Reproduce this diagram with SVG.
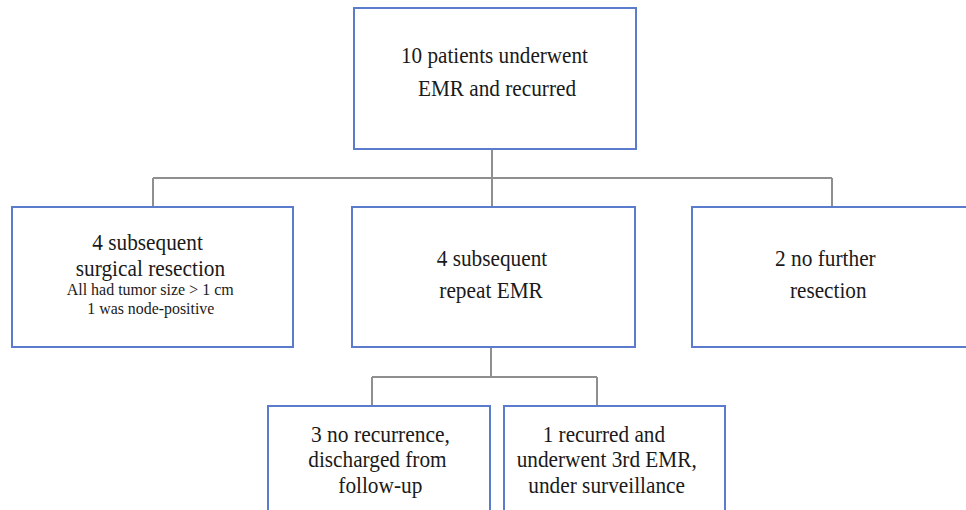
<svg xmlns="http://www.w3.org/2000/svg" width="966" height="510" viewBox="0 0 966 510">
<style>
.box{fill:#fff;stroke:#5b7ccc;stroke-width:2}
.con{fill:none;stroke:#8f8f8f;stroke-width:2}
</style>
<rect width="966" height="510" fill="#fff"/>
<g id="connectors">
<path class="con" d="M492 149V178M153 178H832M153 178V207M492 178V207M832 178V207"/>
<path class="con" d="M491 347V377M372 377H597M372 377V406M597 377V406"/>
</g>
<g id="n-top">
<rect class="box" x="354" y="8" width="282" height="141"/>
<text x="401" y="63" font-family="Liberation Serif" font-size="24" fill="#1a1a1a" textLength="187" lengthAdjust="spacingAndGlyphs">10 patients underwent</text>
<text x="418" y="96" font-family="Liberation Serif" font-size="24" fill="#1a1a1a" textLength="158" lengthAdjust="spacingAndGlyphs">EMR and recurred</text>
</g>
<g id="n-surgical">
<rect class="box" x="12" y="207" width="281" height="140"/>
<text x="92.3" y="250" font-family="Liberation Serif" font-size="24" fill="#1a1a1a" textLength="110.5" lengthAdjust="spacingAndGlyphs">4 subsequent</text>
<text x="75.7" y="276" font-family="Liberation Serif" font-size="24" fill="#1a1a1a" textLength="149.5" lengthAdjust="spacingAndGlyphs">surgical resection</text>
<text x="66.7" y="295" font-family="Liberation Serif" font-size="16.5" fill="#1a1a1a" textLength="167" lengthAdjust="spacingAndGlyphs">All had tumor size &gt; 1 cm</text>
<text x="87.3" y="314" font-family="Liberation Serif" font-size="16.5" fill="#1a1a1a" textLength="127" lengthAdjust="spacingAndGlyphs">1 was node-positive</text>
</g>
<g id="n-repeat">
<rect class="box" x="352" y="207" width="283" height="140"/>
<text x="436.7" y="266" font-family="Liberation Serif" font-size="24" fill="#1a1a1a" textLength="110.5" lengthAdjust="spacingAndGlyphs">4 subsequent</text>
<text x="439.3" y="298" font-family="Liberation Serif" font-size="24" fill="#1a1a1a" textLength="103.5" lengthAdjust="spacingAndGlyphs">repeat EMR</text>
</g>
<g id="n-nofurther">
<rect class="box" x="692" y="207" width="280" height="140"/>
<text x="775" y="266" font-family="Liberation Serif" font-size="24" fill="#1a1a1a" textLength="100.7" lengthAdjust="spacingAndGlyphs">2 no further</text>
<text x="790" y="298" font-family="Liberation Serif" font-size="24" fill="#1a1a1a" textLength="76.5" lengthAdjust="spacingAndGlyphs">resection</text>
</g>
<g id="n-norecur">
<rect class="box" x="268" y="406" width="222" height="110"/>
<text x="311" y="442" font-family="Liberation Serif" font-size="24" fill="#1a1a1a" textLength="139" lengthAdjust="spacingAndGlyphs">3 no recurrence,</text>
<text x="308.3" y="467" font-family="Liberation Serif" font-size="24" fill="#1a1a1a" textLength="138.3" lengthAdjust="spacingAndGlyphs">discharged from</text>
<text x="338.3" y="493" font-family="Liberation Serif" font-size="24" fill="#1a1a1a" textLength="84" lengthAdjust="spacingAndGlyphs">follow-up</text>
</g>
<g id="n-recurred">
<rect class="box" x="504" y="406" width="221" height="110"/>
<text x="542.7" y="442" font-family="Liberation Serif" font-size="24" fill="#1a1a1a" textLength="122.3" lengthAdjust="spacingAndGlyphs">1 recurred and</text>
<text x="516.7" y="467" font-family="Liberation Serif" font-size="24" fill="#1a1a1a" textLength="180" lengthAdjust="spacingAndGlyphs">underwent 3rd EMR,</text>
<text x="528.3" y="493" font-family="Liberation Serif" font-size="24" fill="#1a1a1a" textLength="156.7" lengthAdjust="spacingAndGlyphs">under surveillance</text>
</g>
</svg>
